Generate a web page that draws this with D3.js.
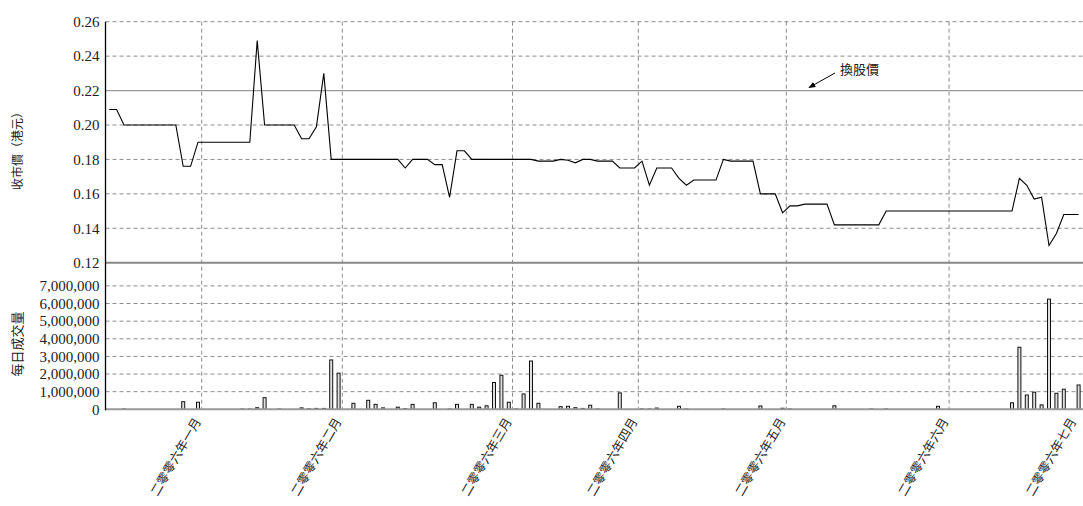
<!DOCTYPE html>
<html>
<head>
<meta charset="utf-8">
<script src="https://cdn.jsdelivr.net/npm/d3@7"></script>
<style>
  body { margin: 0; background: #fff; }
  svg { display: block; }
</style>
</head>
<body>
<div id="chart"></div>
<script>
// closing price per trading day (HK$)
var closePrice = [
  0.209, 0.209, 0.20, 0.20, 0.20, 0.20, 0.20, 0.20, 0.20, 0.20,
  0.176, 0.176, 0.19, 0.19, 0.19, 0.19, 0.19, 0.19, 0.19, 0.19,
  0.249, 0.20, 0.20, 0.20, 0.20, 0.20, 0.192, 0.192, 0.199, 0.230,
  0.18, 0.18, 0.18, 0.18, 0.18, 0.18, 0.18, 0.18, 0.18, 0.18,
  0.175, 0.18, 0.18, 0.18, 0.177, 0.177, 0.158, 0.185, 0.185, 0.18,
  0.18, 0.18, 0.18, 0.18, 0.18, 0.18, 0.18, 0.18, 0.179, 0.179,
  0.179, 0.18, 0.1795, 0.178, 0.18, 0.18, 0.179, 0.179, 0.179, 0.175,
  0.175, 0.175, 0.179, 0.165, 0.175, 0.175, 0.175, 0.169, 0.165, 0.168,
  0.168, 0.168, 0.168, 0.18, 0.179, 0.179, 0.179, 0.179, 0.16, 0.16,
  0.16, 0.149, 0.153, 0.153, 0.154, 0.154, 0.154, 0.154, 0.142, 0.142,
  0.142, 0.142, 0.142, 0.142, 0.142, 0.15, 0.15, 0.15, 0.15, 0.15,
  0.15, 0.15, 0.15, 0.15, 0.15, 0.15, 0.15, 0.15, 0.15, 0.15,
  0.15, 0.15, 0.15, 0.169, 0.165, 0.157, 0.158, 0.130, 0.137, 0.148,
  0.148, 0.148
]

// daily volume (shares)
var dailyVolume = [
  0, 0, 20000, 0, 0, 0, 0, 0, 0, 0,
  430000, 0, 400000, 0, 0, 0, 0, 0, 20000, 20000,
  90000, 660000, 0, 20000, 0, 0, 80000, 30000, 50000, 50000,
  2800000, 2050000, 0, 340000, 0, 510000, 280000, 80000, 0, 120000,
  40000, 280000, 0, 0, 370000, 0, 20000, 280000, 0, 280000,
  120000, 200000, 1520000, 1930000, 400000, 20000, 870000, 2740000, 340000, 0,
  0, 150000, 170000, 90000, 50000, 230000, 20000, 0, 0, 930000,
  0, 0, 20000, 20000, 70000, 0, 0, 170000, 20000, 0,
  0, 0, 0, 20000, 0, 0, 0, 0, 190000, 0,
  0, 60000, 20000, 0, 0, 0, 0, 0, 200000, 0,
  0, 0, 0, 20000, 0, 20000, 0, 0, 0, 0,
  0, 0, 170000, 0, 0, 0, 0, 0, 0, 0,
  0, 0, 370000, 3520000, 810000, 970000, 250000, 6250000, 910000, 1140000,
  0, 1380000
]

// month labels and the trading-day index where each month ends
var monthLabels = ["二零零六年一月", "二零零六年二月", "二零零六年三月", "二零零六年四月",
  "二零零六年五月", "二零零六年六月", "二零零六年七月"]
var monthEnds = [13, 32, 55, 72, 92, 114, 132]

var priceTicks = [0.12, 0.14, 0.16, 0.18, 0.20, 0.22, 0.24, 0.26]
var volumeTicks = [0, 1000000, 2000000, 3000000, 4000000, 5000000, 6000000, 7000000]
var conversionPrice = 0.22

var width = 1083, height = 506
var left = 105.5, right = 1083

var svg = d3.select("#chart")
  .append("svg")
  .attr("width", width)
  .attr("height", height)

var serif = "'Liberation Serif', 'Times New Roman', serif"
var cjk = "'Noto Sans CJK TC', 'Noto Sans CJK SC', sans-serif"

// scales
var days = d3.range(closePrice.length)
var x = d3.scaleBand()
  .domain(days)
  .range([left, left + days.length * 7.4])

function cx(i) { return x(i) + x.bandwidth() / 2 }
function bx(i) { return i >= days.length ? left + i * x.step() : x(i) }

var yPrice = d3.scaleLinear().domain([0.12, 0.26]).range([262.7, 21.7])
var yVol = d3.scaleLinear().domain([0, 7000000]).range([409.3, 285.9])

// horizontal gridlines - price panel
svg.selectAll("priceGrid")
  .data(priceTicks.filter(function (d) { return d > 0.125 && d !== conversionPrice }))
  .enter()
  .append("line")
  .attr("x1", left).attr("x2", right)
  .attr("y1", function (d) { return yPrice(d) })
  .attr("y2", function (d) { return yPrice(d) })
  .style("stroke", "#8c8c8c")
  .style("stroke-dasharray", "4,3")

// horizontal gridlines - volume panel
svg.selectAll("volGrid")
  .data(volumeTicks.filter(function (d) { return d > 0 }))
  .enter()
  .append("line")
  .attr("x1", left).attr("x2", right)
  .attr("y1", function (d) { return yVol(d) })
  .attr("y2", function (d) { return yVol(d) })
  .style("stroke", "#8c8c8c")
  .style("stroke-dasharray", "4,3")

// vertical month gridlines
svg.selectAll("monthGrid")
  .data(monthEnds.slice(0, monthEnds.length - 1))
  .enter()
  .append("line")
  .attr("x1", function (d) { return bx(d) })
  .attr("x2", function (d) { return bx(d) })
  .attr("y1", yPrice(0.26)).attr("y2", yVol(0))
  .style("stroke", "#8c8c8c")
  .style("stroke-dasharray", "4,3")

// conversion price line
svg.append("line")
  .attr("x1", left).attr("x2", right)
  .attr("y1", yPrice(conversionPrice)).attr("y2", yPrice(conversionPrice))
  .style("stroke", "#999")
  .style("stroke-width", 1.3)

// panel divider (0.12)
svg.append("line")
  .attr("x1", left).attr("x2", right)
  .attr("y1", yPrice(0.12)).attr("y2", yPrice(0.12))
  .style("stroke", "#888")
  .style("stroke-width", 2)

// volume bars
svg.selectAll("volBar")
  .data(days.filter(function (i) { return dailyVolume[i] > 0 }))
  .enter()
  .append("rect")
  .attr("x", function (i) { return cx(i) - 1.5 })
  .attr("width", 3)
  .attr("y", function (i) { return yVol(dailyVolume[i]) })
  .attr("height", function (i) { return yVol(0) - yVol(dailyVolume[i]) })
  .style("fill", "#e0e0e0")
  .style("stroke", "#111")
  .style("stroke-width", 1)

// volume baseline
svg.append("line")
  .attr("x1", left).attr("x2", right)
  .attr("y1", yVol(0)).attr("y2", yVol(0))
  .style("stroke", "#999")
  .style("stroke-width", 2)

// price line
svg.append("path")
  .datum(days)
  .attr("d", d3.line()
    .x(function (i) { return cx(i) })
    .y(function (i) { return yPrice(closePrice[i]) }))
  .style("fill", "none")
  .style("stroke", "#000")
  .style("stroke-width", 1.1)

// left axis line
svg.append("line")
  .attr("x1", left).attr("x2", left)
  .attr("y1", yPrice(0.26)).attr("y2", yVol(0) + 1)
  .style("stroke", "#000")
  .style("stroke-width", 1.3)

// y axes
var priceAxis = svg.append("g")
  .attr("transform", "translate(" + (left - 6) + ",0)")
  .call(d3.axisLeft(yPrice).tickValues(priceTicks).tickSize(0).tickFormat(d3.format(".2f")))
var volAxis = svg.append("g")
  .attr("transform", "translate(" + (left - 6) + ",0)")
  .call(d3.axisLeft(yVol).tickValues(volumeTicks).tickSize(0).tickFormat(d3.format(",")))

;[priceAxis, volAxis].forEach(function (g) {
  g.select(".domain").remove()
  g.selectAll("text")
    .attr("x", 0)
    .style("font-family", serif)
    .style("font-size", "15px")
    .style("fill", "#222")
})

// month labels (last one kept inside the frame)
svg.selectAll("monthLabel")
  .data(monthEnds)
  .enter()
  .append("text")
  .attr("transform", function (d, i) {
    return "translate(" + Math.min(bx(d) - 4, width - 10) + ",419) rotate(-60)"
  })
  .attr("text-anchor", "end")
  .attr("dy", "0.35em")
  .text(function (d, i) { return monthLabels[i] })
  .style("font-family", cjk)
  .style("font-size", "12.5px")
  .style("fill", "#222")

// axis titles
svg.append("text")
  .attr("transform", "translate(22,148) rotate(-90)")
  .attr("text-anchor", "middle")
  .text("收市價（港元）")
  .style("font-family", cjk)
  .style("font-size", "12px")
  .style("fill", "#222")

svg.append("text")
  .attr("transform", "translate(22,344) rotate(-90)")
  .attr("text-anchor", "middle")
  .text("每日成交量")
  .style("font-family", cjk)
  .style("font-size", "13px")
  .style("fill", "#222")

// annotation for conversion price
svg.append("defs").append("marker")
  .attr("id", "arrow")
  .attr("viewBox", "0 0 10 10")
  .attr("refX", 9).attr("refY", 5)
  .attr("markerWidth", 7).attr("markerHeight", 7)
  .attr("orient", "auto")
  .append("path")
  .attr("d", "M0,1 L10,5 L0,9 z")
  .style("fill", "#000")

svg.append("line")
  .attr("x1", 835).attr("y1", 73)
  .attr("x2", 809).attr("y2", yPrice(conversionPrice) - 3)
  .style("stroke", "#000")
  .style("stroke-width", 1)
  .attr("marker-end", "url(#arrow)")

svg.append("text")
  .attr("x", 840).attr("y", 74)
  .text("換股價")
  .style("font-family", cjk)
  .style("font-size", "13px")
  .style("fill", "#222")
</script>
</body>
</html>
